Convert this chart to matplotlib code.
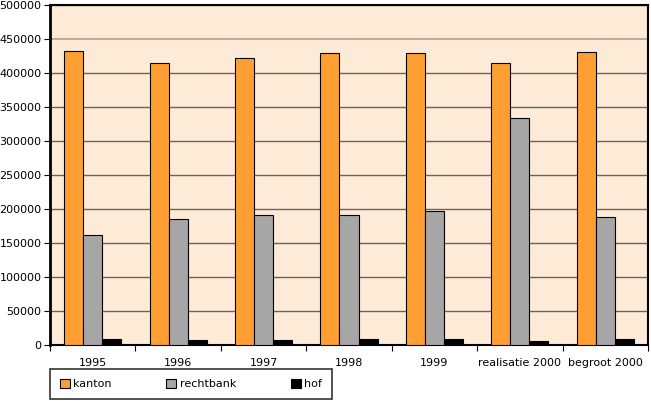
import numpy as np
import matplotlib.pyplot as plt
from matplotlib.ticker import MultipleLocator, FixedLocator

# data
categories = ["1995", "1996", "1997", "1998", "1999", "realisatie 2000", "begroot 2000"]
kanton = [432000, 415000, 422500, 430000, 429000, 414000, 430500]
rechtbank = [162500, 186000, 190500, 191000, 196500, 334000, 188500]
hof = [8300, 8000, 8000, 8300, 8300, 5900, 9300]

series = [("kanton", kanton, "#FF9F33"),
          ("rechtbank", rechtbank, "#A6A6A6"),
          ("hof", hof, "#000000")]

plt.rcParams["font.family"] = "DejaVu Sans"
plt.rcParams["font.size"] = 8

fig = plt.figure(figsize=(6.51, 4.01), dpi=100)
ax = fig.add_axes([50 / 651, 56 / 401, 598 / 651, 340 / 401])
ax.set_facecolor("#FDEBD8")

x = np.arange(len(categories))
w = 0.2225
for i, (name, vals, col) in enumerate(series):
    ax.bar(x + (i - 1) * w, vals, w, color=col, edgecolor="black",
           linewidth=0.8, label=name, zorder=3)

ax.set_xlim(-0.5, len(categories) - 0.5)
ax.set_ylim(0, 500000)
ax.yaxis.set_major_locator(MultipleLocator(50000))
ax.set_xticks(x)
ax.set_xticklabels(categories)
ax.xaxis.set_minor_locator(FixedLocator(np.arange(-0.5, len(categories), 1)))
ax.tick_params(axis="x", which="major", length=0, pad=9)
ax.tick_params(axis="x", which="minor", length=4, direction="out", width=0.8)
ax.tick_params(axis="y", length=4, direction="out", width=0.8, pad=2)

ax.yaxis.grid(True, color="#6E6259", linewidth=1, zorder=0)
ax.set_axisbelow(True)
# the 450000 line is lighter in the original
for gl, val in zip(ax.get_ygridlines(), ax.get_yticks()):
    if val == 450000:
        gl.set_color("#BDAEA0")
        gl.set_linewidth(1.5)

for s in ax.spines.values():
    s.set_color("black")
    s.set_linewidth(1.5)
ax.spines["left"].set_linewidth(2)

leg = fig.legend(loc="lower left", bbox_to_anchor=(50 / 651, 2 / 401, 282 / 651, 29 / 401),
                 mode="expand", ncol=3, frameon=True, fancybox=False,
                 edgecolor="black", handlelength=0.9, handleheight=0.9,
                 handletextpad=0.3, borderaxespad=0, borderpad=0.9, fontsize=8)
leg.get_frame().set_linewidth(1.2)

fig.savefig("out.png", dpi=100, facecolor="white")
